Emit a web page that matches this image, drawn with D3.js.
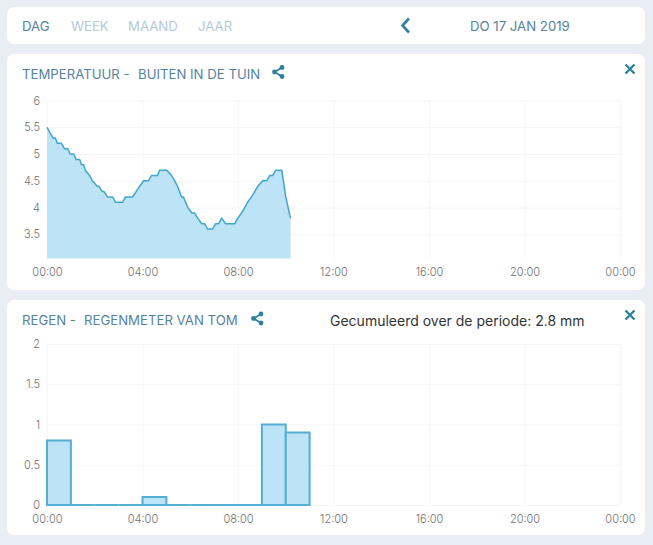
<!DOCTYPE html>
<html>
<head>
<meta charset="utf-8">
<script src="https://cdnjs.cloudflare.com/ajax/libs/d3/7.8.5/d3.min.js"></script>
<style>
  html, body { margin: 0; padding: 0; background: #e9eef5; overflow: hidden; }
  svg { display: block; }
  text { font-family: Inter, sans-serif; }
  .title { font-size: 13.2px; fill: #55829f; }
  .tick text { font-size: 11px; fill: #707070; font-weight: 300; }
</style>
</head>
<body>
<div id="chart"></div>
<script>
// temperature, minutes since midnight + degrees
var tempMinutes = [0, 15, 21, 26, 36, 44, 52, 58, 67, 73, 82, 87, 92, 96, 107, 114, 126, 130, 139, 143,
  152, 165, 172, 190, 197, 215, 224, 233, 243, 255, 263, 278, 283, 301, 313, 321, 328, 338, 343, 354,
  364, 371, 379, 389, 396, 404, 416, 424, 431, 439, 449, 472, 479, 489, 497, 504, 514, 522, 530, 542,
  552, 560, 567, 575, 590, 600, 612];
var tempValues = [5.5, 5.3, 5.3, 5.2, 5.2, 5.1, 5.1, 5.0, 5.0, 4.9, 4.9, 4.8, 4.8, 4.7, 4.6, 4.5, 4.4, 4.4, 4.3, 4.3,
  4.2, 4.2, 4.1, 4.1, 4.2, 4.2, 4.3, 4.4, 4.5, 4.5, 4.6, 4.6, 4.7, 4.7, 4.6, 4.5, 4.4, 4.2, 4.2, 4.0,
  3.9, 3.9, 3.8, 3.7, 3.7, 3.6, 3.6, 3.7, 3.7, 3.8, 3.7, 3.7, 3.8, 3.9, 4.0, 4.1, 4.2, 4.3, 4.4, 4.5,
  4.5, 4.6, 4.6, 4.7, 4.7, 4.2, 3.8];
var tempTicks = [3.5, 4, 4.5, 5, 5.5, 6];

// rain per hour
var rainHours = [0, 1, 2, 3, 4, 5, 6, 7, 8, 9, 10];
var rainValues = [0.8, 0, 0, 0, 0.1, 0, 0, 0, 0, 1, 0.9];
var rainTicks = [0, 0.5, 1, 1.5, 2];

var timeTicks = [0, 240, 480, 720, 960, 1200, 1440];
var timeLabels = ["00:00", "04:00", "08:00", "12:00", "16:00", "20:00", "00:00"];
var navItems = ["DAG", "WEEK", "MAAND", "JAAR"];
var navX = [22, 71, 128, 198];

var w = 653, h = 545;
var lineColor = "#3ea6cf";
var barStroke = "#52aed2";
var fillColor = "#bde3f6";
var iconColor = "#2f7f9f";

var svg = d3.select("#chart").append("svg")
  .attr("width", w)
  .attr("height", h);

// white cards
var cards = [[7, 7, 638, 37], [7, 54, 638, 236], [7, 300, 638, 235]];
svg.selectAll("rect.card")
  .data(cards)
  .enter()
  .append("rect")
  .attr("class", "card")
  .attr("x", (d) => d[0])
  .attr("y", (d) => d[1])
  .attr("width", (d) => d[2])
  .attr("height", (d) => d[3])
  .attr("rx", 7)
  .attr("fill", "white");

// top nav
svg.selectAll("text.nav")
  .data(navItems)
  .enter()
  .append("text")
  .attr("class", "title nav")
  .attr("x", (d, i) => navX[i])
  .attr("y", 30.5)
  .style("fill", (d, i) => i == 0 ? "#55829f" : "#b5c9d9")
  .text((d) => d);

svg.append("path")
  .attr("d", "M409,18.5L402.5,25.5L409,32.5")
  .attr("fill", "none")
  .attr("stroke", iconColor)
  .attr("stroke-width", 2.6);

svg.append("text")
  .attr("class", "title")
  .attr("x", 470)
  .attr("y", 30.5)
  .text("DO 17 JAN 2019");

// share + close icons
function shareIcon(x, y) {
  var g = svg.append("g").attr("transform", "translate(" + x + "," + y + ")");
  g.append("path")
    .attr("d", "M7.5,-4.5L0,0L7.5,4.5")
    .attr("fill", "none")
    .attr("stroke", iconColor)
    .attr("stroke-width", 1.8);
  g.selectAll("circle")
    .data([[0, 0], [7.5, -4.5], [7.5, 4.5]])
    .enter()
    .append("circle")
    .attr("cx", (d) => d[0])
    .attr("cy", (d) => d[1])
    .attr("r", 2.4)
    .attr("fill", iconColor);
}

function closeIcon(x, y) {
  svg.append("path")
    .attr("d", "M" + (x - 4.5) + "," + (y - 4.5) + "L" + (x + 4.5) + "," + (y + 4.5) +
      "M" + (x + 4.5) + "," + (y - 4.5) + "L" + (x - 4.5) + "," + (y + 4.5))
    .attr("stroke", iconColor)
    .attr("stroke-width", 2.4);
}

// titles
svg.append("text").attr("class", "title").attr("x", 22).attr("y", 79).text("TEMPERATUUR -");
svg.append("text").attr("class", "title").attr("x", 138).attr("y", 79).text("BUITEN IN DE TUIN");
shareIcon(274.5, 72);
closeIcon(630, 69);

svg.append("text").attr("class", "title").attr("x", 22).attr("y", 325).text("REGEN -");
svg.append("text").attr("class", "title").attr("x", 84).attr("y", 325).text("REGENMETER VAN TOM");
shareIcon(253.5, 318.5);
closeIcon(630, 315);

svg.append("text")
  .attr("x", 330)
  .attr("y", 326)
  .attr("font-size", "14px")
  .attr("fill", "#333")
  .text("Gecumuleerd over de periode: 2.8 mm");

// scales
var xScale = d3.scaleLinear()
  .domain([0, 1440])
  .range([47, 620]);
var yTemp = d3.scaleLinear()
  .domain([3.05, 6])
  .range([258.5, 100.5]);
var yRain = d3.scaleLinear()
  .domain([0, 2])
  .range([505, 344]);

function drawAxes(yScale, ticks, bottom, top) {
  // x-axis with vertical grid
  var xAxis = d3.axisBottom()
    .scale(xScale)
    .tickValues(timeTicks)
    .tickFormat((d, i) => timeLabels[i])
    .tickSize(-(bottom - top))
    .tickPadding(10);
  var gx = svg.append("g")
    .attr("transform", "translate(0," + bottom + ")")
    .call(xAxis);
  gx.select(".domain").remove();
  gx.selectAll("line").attr("stroke", "#f4f5f7");

  // y-axis with horizontal grid
  var yAxis = d3.axisLeft()
    .scale(yScale)
    .tickValues(ticks)
    .tickFormat((d) => d)
    .tickSize(-(xScale.range()[1] - xScale.range()[0]))
    .tickPadding(7);
  var gy = svg.append("g")
    .attr("transform", "translate(" + xScale.range()[0] + ",0)")
    .call(yAxis);
  gy.select(".domain").remove();
  gy.selectAll("line").attr("stroke", "#f4f5f7");
}

drawAxes(yTemp, tempTicks, 258.5, 100.5);
drawAxes(yRain, rainTicks, 505, 344);

// temperature area + line
var area = d3.area()
  .x((d, i) => xScale(tempMinutes[i]))
  .y0(yTemp.range()[0])
  .y1((d) => yTemp(d));
var line = d3.line()
  .x((d, i) => xScale(tempMinutes[i]))
  .y((d) => yTemp(d));

svg.append("path")
  .attr("d", area(tempValues))
  .attr("fill", fillColor);
svg.append("path")
  .attr("d", line(tempValues))
  .attr("fill", "none")
  .attr("stroke", lineColor)
  .attr("stroke-width", 1.5);

// rain bars, as paths so the zero hours still show their outline
svg.selectAll("path.rain")
  .data(rainValues)
  .enter()
  .append("path")
  .attr("class", "rain")
  .attr("d", (d, i) => {
    var x0 = xScale(rainHours[i] * 60);
    var x1 = xScale((rainHours[i] + 1) * 60);
    var p = d3.path();
    p.moveTo(x0, yRain(0));
    p.lineTo(x0, yRain(d));
    p.lineTo(x1, yRain(d));
    p.lineTo(x1, yRain(0));
    p.closePath();
    return p.toString();
  })
  .attr("fill", fillColor)
  .attr("stroke", barStroke)
  .attr("stroke-width", 2);
</script>
</body>
</html>
